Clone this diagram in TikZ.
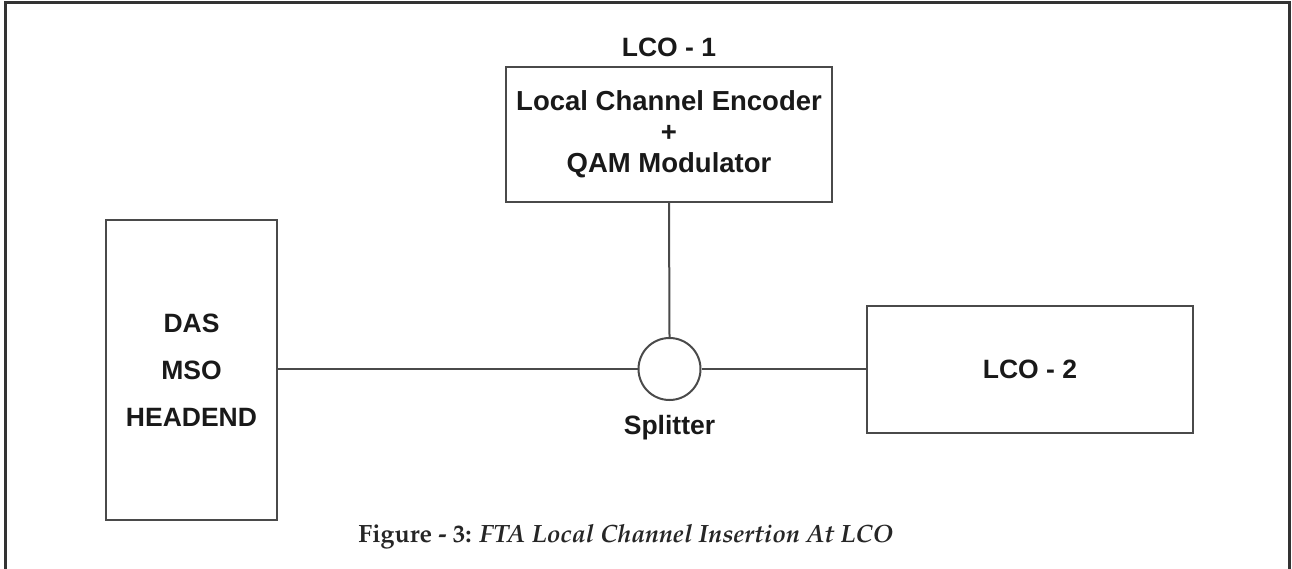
\documentclass[tikz,border=0pt]{standalone}
\usepackage[T1]{fontenc}
\usepackage{fontspec}
\setmainfont{Liberation Sans}
\newcommand{\palfont}{\fontencoding{T1}\fontfamily{ppl}\selectfont}
\definecolor{boxline}{HTML}{4A4A4A}
\definecolor{frameline}{HTML}{333333}
\tikzset{
  blk/.style={draw=boxline, line width=2pt, rectangle, inner sep=0pt, align=center,
    font=\bfseries\fontsize{26.5}{31}\selectfont, text=black!90},
  lbl/.style={inner sep=0pt, font=\bfseries\fontsize{26.5}{31}\selectfont, text=black!90},
  wire/.style={draw=boxline, line width=2pt},
  split/.style={draw=boxline, line width=2pt, circle, minimum size=62pt, inner sep=0pt}
}
\begin{document}
\begin{tikzpicture}[x=1pt,y=-1pt]
\useasboundingbox (0,0) rectangle (1292,569);
\draw[frameline, line width=3pt] (5.5,569) -- (5.5,2.5) -- (1289.5,2.5) -- (1289.5,569);

\node[blk, minimum width=326pt, minimum height=135pt,
  font=\bfseries\fontsize{27.5}{31}\selectfont] (enc) at (669,134.5)
  {Local Channel Encoder\\+\\QAM Modulator};
\node[lbl, anchor=base] (lco1) at (669,57) {LCO - 1};

\node[blk, minimum width=171pt, minimum height=300pt,
  font=\bfseries\fontsize{26.5}{47}\selectfont] (das) at (191.5,370)
  {DAS\\MSO\\HEADEND};

\node[split] (sp) at (669.5,369) {};
\node[lbl, anchor=base] (splbl) at (669.5,434) {Splitter};

\node[blk, minimum width=326pt, minimum height=127pt] (lco2) at (1030,369.5) {LCO - 2};

\draw[wire] (das.east |- sp.west) -- (sp.west);
\draw[wire] (sp.east) -- (lco2.west |- sp.east);
\draw[wire] (enc.south) -- (sp.north);

\node[inner sep=0pt, anchor=base, text=black!85] (cap) at (626,542)
  {\palfont\fontsize{25}{29}\selectfont\bfseries Figure - 3: \itshape FTA Local Channel Insertion At LCO};
\end{tikzpicture}
\end{document}
